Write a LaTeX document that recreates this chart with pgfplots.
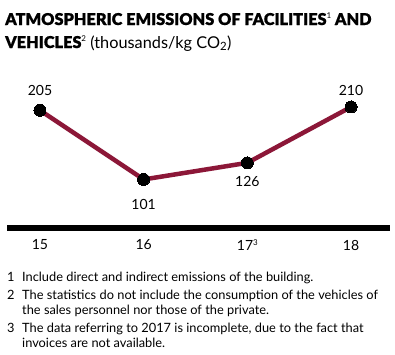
\documentclass[border=0pt]{standalone}
\usepackage{fontspec}
\setmainfont{Lato}
\newfontfamily\heavyfont{Lato Black}[FakeBold=0.8]
\usepackage{pgfplots}
\pgfplotsset{compat=1.18}
\definecolor{crimson}{RGB}{140,23,56}
\newcommand{\smsup}[1]{\raisebox{0.75ex}{\normalfont\fontsize{8}{8}\selectfont #1}}
\begin{document}
\begin{tikzpicture}
\path (0,0) rectangle (395pt,-354pt);
% title
\node[anchor=base west, inner sep=0] at (5pt,-25pt) {\fontsize{16.3}{18}\selectfont\heavyfont ATMOSPHERIC EMISSIONS OF FACILITIES\smsup{1} AND};
\node[anchor=base west, inner sep=0] at (5pt,-48pt) {\fontsize{16.3}{18}\selectfont{\heavyfont VEHICLES}\smsup{2} (thousands/kg CO\textsubscript{2})};
\begin{axis}[
  at={(7pt,-228pt)}, anchor=south west,
  scale only axis, width=383pt, height=133pt,
  xmin=-0.318, xmax=3.376, ymin=28, ymax=228,
  axis x line=bottom, axis y line=none,
  axis line style={-},
  x axis line style={line width=6pt, black},
  xtick={0,1,2,3}, xticklabels={15,16,{17\smsup{3}},18},
  ytick=\empty,
  major tick length=0pt,
  /pgf/number format/assume math mode=true,
  xticklabel style={anchor=center, yshift=-17pt, font=\fontsize{14}{16}\selectfont},
  clip=false,
]
\addplot[color=crimson, line width=4.5pt, line join=round, mark=*, mark size=6pt,
  mark options={fill=black, draw=black, line width=0pt}] coordinates {(0,205) (1,101) (2,126) (3,210)};
\node[font=\fontsize{14}{16}\selectfont] at (axis cs:0,205) [yshift=20pt] {205};
\node[font=\fontsize{14}{16}\selectfont] at (axis cs:1,101) [yshift=-25pt] {101};
\node[font=\fontsize{14}{16}\selectfont] at (axis cs:2,126) [yshift=-19pt] {126};
\node[font=\fontsize{14}{16}\selectfont] at (axis cs:3,210) [yshift=16pt] {210};
\end{axis}
% footnotes
\node[anchor=north west, inner sep=0, text width=381pt] at (7pt,-272pt) {%
\fontsize{12.8}{15}\selectfont\parindent=0pt\hyphenpenalty=10000\exhyphenpenalty=10000
\hangindent=15pt\hangafter=1\makebox[15pt][l]{1}Include direct and indirect emissions of the building.\par\vspace{3pt}
\hangindent=15pt\hangafter=1\makebox[15pt][l]{2}The statistics do not include the consumption of the vehicles of the sales personnel nor those of the private.\par\vspace{3pt}
\hangindent=15pt\hangafter=1\makebox[15pt][l]{3}The data referring to 2017 is incomplete, due to the fact that invoices are not available.\par};
\end{tikzpicture}
\end{document}
